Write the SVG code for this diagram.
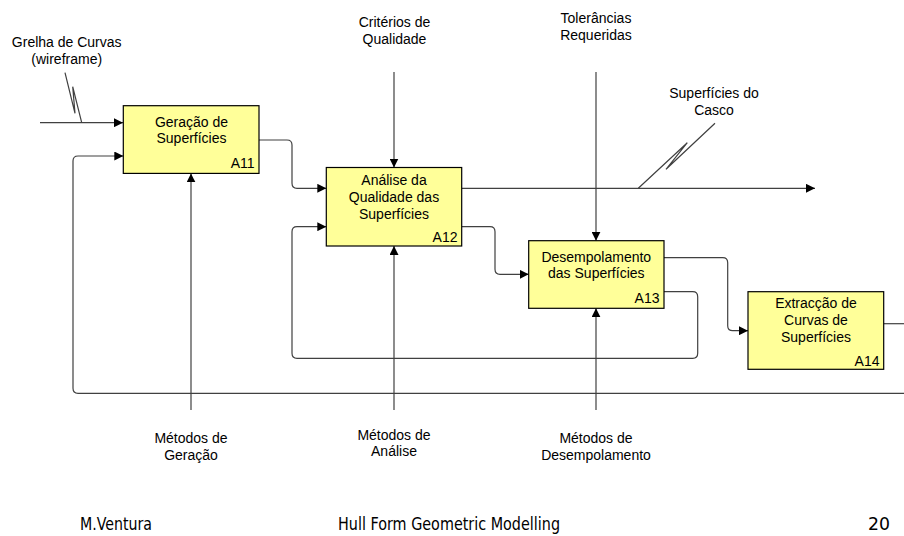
<svg xmlns="http://www.w3.org/2000/svg" width="904" height="536" viewBox="0 0 904 536">
<defs>
<marker id="ah" markerUnits="userSpaceOnUse" markerWidth="10" markerHeight="9" refX="9" refY="4.5" orient="auto">
<path d="M0,0 L9,4.5 L0,9 z" fill="#000"/>
</marker>
<style>
.box{fill:#ffff99;stroke:#000;stroke-width:1.2}
.t{font-family:"Liberation Sans",Arial,sans-serif;font-size:14px;fill:#000;text-anchor:middle}
.id{font-family:"Liberation Sans",Arial,sans-serif;font-size:14px;fill:#000;text-anchor:end}
.c{fill:none;stroke:#404040;stroke-width:1.2}
.a{marker-end:url(#ah)}
.f{font-family:"Comic Sans MS","DejaVu Sans",sans-serif;font-size:17px;fill:#000}
</style>
</defs>
<rect width="904" height="536" fill="#fff"/>
<g id="connectors">
<path class="c a" d="M40,122.7 H123"/>
<polyline class="c" points="65,72.7 75,113.3 72.7,86.7 81.7,122.7"/>
<path class="c a" d="M259,140 H287 Q292,140 292,145 V183.3 Q292,188.3 297,188.3 H326.3"/>
<path class="c a" d="M664,291.7 H692.7 Q697.7,291.7 697.7,296.7 V353.3 Q697.7,358.3 692.7,358.3 H297 Q292,358.3 292,353.3 V231.7 Q292,226.7 297,226.7 H326.3"/>
<path class="c a" d="M461.7,226.7 H490 Q495,226.7 495,231.7 V269.3 Q495,274.3 500,274.3 H528.7"/>
<path class="c a" d="M461.7,188.3 H815"/>
<polyline class="c" points="715,123.3 666,169.3 687.3,142.7 638.3,188.3"/>
<path class="c a" d="M664,257.7 H722.7 Q727.7,257.7 727.7,262.7 V325.7 Q727.7,330.7 732.7,330.7 H748"/>
<path class="c" d="M883.7,323.7 H910"/>
<path class="c a" d="M910,393.3 H78 Q73,393.3 73,388.3 V161 Q73,156 78,156 H123.3"/>
<path class="c a" d="M394,72 V167.5"/>
<path class="c a" d="M596,72 V240.7"/>
<path class="c a" d="M191,410 V173.4"/>
<path class="c a" d="M394,410 V246"/>
<path class="c a" d="M596,410 V308.3"/>
</g>
<g id="A11">
<rect class="box" x="123.3" y="105.7" width="135.7" height="67.7"/>
<text class="t" x="191.5" y="126.7">Geração de</text>
<text class="t" x="191.5" y="143.3">Superfícies</text>
<text class="id" x="254.5" y="168.3">A11</text>
</g>
<g id="A12">
<rect class="box" x="326.3" y="167.5" width="135.4" height="78.5"/>
<text class="t" x="394" y="185">Análise da</text>
<text class="t" x="394" y="202">Qualidade das</text>
<text class="t" x="394" y="218.7">Superfícies</text>
<text class="id" x="457.5" y="241.7">A12</text>
</g>
<g id="A13">
<rect class="box" x="528.7" y="240.7" width="135.3" height="67.6"/>
<text class="t" x="596.3" y="261.7">Desempolamento</text>
<text class="t" x="596.3" y="278.3">das Superfícies</text>
<text class="id" x="659.5" y="303.3">A13</text>
</g>
<g id="A14">
<rect class="box" x="748" y="291.7" width="135.7" height="77.6"/>
<text class="t" x="816" y="308.3">Extracção de</text>
<text class="t" x="816" y="325">Curvas de</text>
<text class="t" x="816" y="341.7">Superfícies</text>
<text class="id" x="879.5" y="365.7">A14</text>
</g>
<g id="labels">
<text class="t" x="66.7" y="47.3">Grelha de Curvas</text>
<text class="t" x="66.7" y="63.8">(wireframe)</text>
<text class="t" x="394.5" y="27.3">Critérios de</text>
<text class="t" x="394.5" y="44">Qualidade</text>
<text class="t" x="596" y="23.3">Tolerâncias</text>
<text class="t" x="596" y="40">Requeridas</text>
<text class="t" x="714" y="98.3">Superfícies do</text>
<text class="t" x="714" y="115">Casco</text>
<text class="t" x="191" y="443.3">Métodos de</text>
<text class="t" x="191" y="460">Geração</text>
<text class="t" x="394" y="439.5">Métodos de</text>
<text class="t" x="394" y="456.2">Análise</text>
<text class="t" x="596" y="443.3">Métodos de</text>
<text class="t" x="596" y="460">Desempolamento</text>
</g>
<g id="footer">
<text class="f" x="80" y="530" textLength="72" lengthAdjust="spacingAndGlyphs">M.Ventura</text>
<text class="f" x="338" y="530" textLength="222" lengthAdjust="spacingAndGlyphs">Hull Form Geometric Modelling</text>
<text class="f" x="868" y="530" textLength="22" lengthAdjust="spacingAndGlyphs">20</text>
</g>
</svg>
